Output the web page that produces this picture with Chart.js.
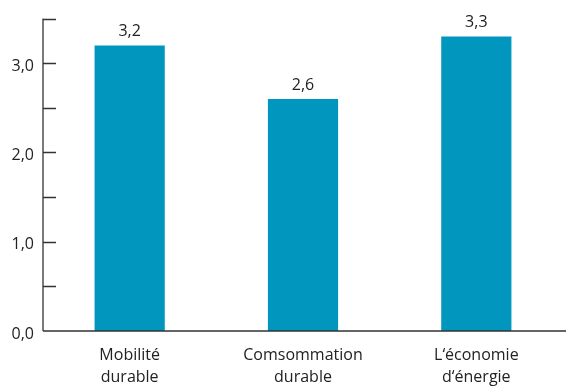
<!DOCTYPE html>
<html>
<head>
<meta charset="utf-8">
<script src="https://cdn.jsdelivr.net/npm/chart.js@4"></script>
<style>
  html, body { margin: 0; padding: 0; background: #fff; }
  #wrap { width: 566px; height: 389px; }
</style>
</head>
<body>
<div id="wrap"><canvas id="chart"></canvas></div>
<script>
const categories = [['Mobilité', 'durable'], ['Comsommation', 'durable'], ['L‘économie', 'd‘énergie']];
const values = [3.2, 2.6, 3.3];
const yMax = 3.5;
const yStep = 0.5;

const fmt = v => v.toFixed(1).replace('.', ',');

// ticks on the y axis point inward, and value labels sit above bars
const extras = {
  id: 'extras',
  afterDraw(chart) {
    const ctx = chart.ctx;
    const y = chart.scales.y;
    const x = chart.scales.x;
    ctx.save();
    ctx.strokeStyle = '#333';
    ctx.lineWidth = 1.3;
    ctx.beginPath();
    ctx.moveTo(x.left, y.top);
    ctx.lineTo(x.left, y.bottom);
    ctx.moveTo(x.left, y.bottom);
    ctx.lineTo(chart.width, y.bottom);
    for (let v = yStep; v <= yMax + 1e-9; v += yStep) {
      const py = Math.round(y.getPixelForValue(v)) + 0.5;
      ctx.moveTo(x.left, py);
      ctx.lineTo(x.left + 13, py);
    }
    ctx.stroke();

    ctx.fillStyle = '#222';
    ctx.font = '16px "Open Sans"';
    ctx.textAlign = 'center';
    ctx.textBaseline = 'alphabetic';
    chart.getDatasetMeta(0).data.forEach((bar, i) => {
      ctx.fillText(fmt(values[i]), bar.x, bar.y - 9);
    });
    ctx.restore();
  }
};

new Chart(document.getElementById('chart'), {
  type: 'bar',
  data: {
    labels: categories,
    datasets: [{
      data: values,
      backgroundColor: '#0096BE',
      barPercentage: 0.405,
      categoryPercentage: 1
    }]
  },
  options: {
    responsive: true,
    maintainAspectRatio: false,
    animation: false,
    layout: { padding: { top: 16, right: 3, left: 0, bottom: 0 } },
    plugins: { legend: { display: false }, tooltip: { enabled: false } },
    scales: {
      x: {
        grid: { display: false, drawTicks: false },
        border: { display: false },
        ticks: {
          color: '#222',
          font: { family: 'Open Sans', size: 16, lineHeight: 1.35 },
          padding: 14,
          maxRotation: 0
        },
        afterFit(scale) { scale.height = 58; }
      },
      y: {
        min: 0,
        max: yMax,
        grid: { display: false, drawTicks: false },
        border: { display: false },
        ticks: {
          stepSize: yStep,
          color: '#222',
          font: { family: 'Open Sans', size: 16 },
          padding: 9,
          labelOffset: 3,
          callback: v => (Math.abs(v - Math.round(v)) < 1e-9 ? fmt(v) : '')
        },
        afterFit(scale) { scale.width = 43; }
      }
    }
  },
  plugins: [extras]
});
</script>
</body>
</html>
